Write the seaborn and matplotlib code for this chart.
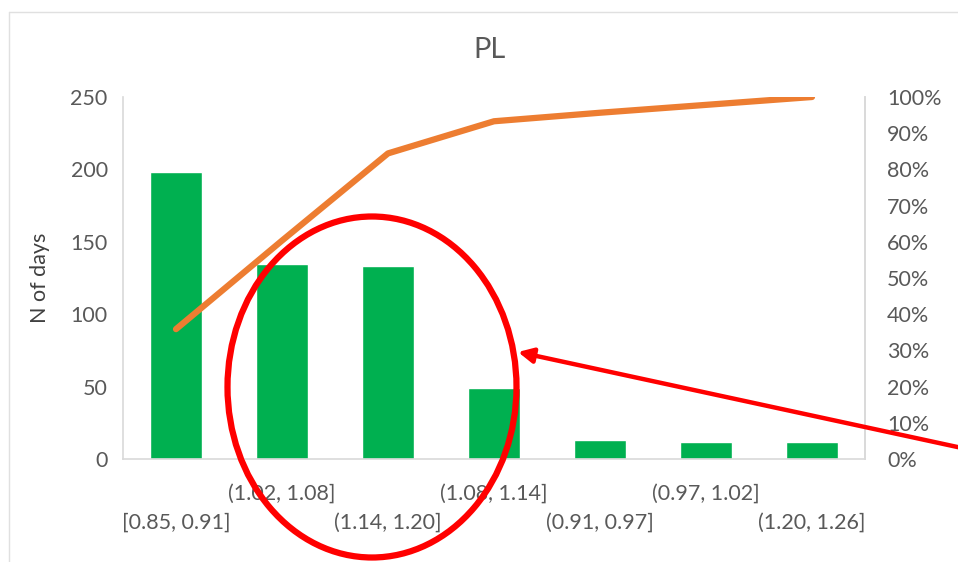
import matplotlib
matplotlib.use("Agg")
import matplotlib.pyplot as plt
import seaborn as sns
import pandas as pd
import numpy as np
from matplotlib.patches import Ellipse, FancyArrowPatch
from matplotlib.lines import Line2D
from matplotlib.ticker import PercentFormatter

categories = ["[0.85, 0.91]", "(1.02, 1.08]", "(1.14, 1.20]", "(1.08, 1.14]",
              "(0.91, 0.97]", "(0.97, 1.02]", "(1.20, 1.26]"]
counts = [198, 135, 133, 49, 13, 12, 12]
left_ticks = [0, 50, 100, 150, 200, 250]
right_ticks = [0, 0.1, 0.2, 0.3, 0.4, 0.5, 0.6, 0.7, 0.8, 0.9, 1.0]

df = pd.DataFrame({"bin": categories, "days": counts})
df["cum"] = df["days"].cumsum() / df["days"].sum()

sns.set_style("white")
plt.rcParams["font.family"] = ["Lato", "DejaVu Sans"]

GRAY = "#595959"
SPINE = "#D9D9D9"

fig = plt.figure(figsize=(9.58, 5.62), dpi=100)
ax = fig.add_axes([123/958, 1-459/562, (865-123)/958, (459-97)/562])

sns.barplot(data=df, x="bin", y="days", color="#00B050", saturation=1,
            width=0.49, ax=ax)
ax.set_ylim(0, 250)
ax.set_xlim(-0.5, len(categories) - 0.5)
ax.set_yticks(left_ticks)
ax.set_ylabel("N of days", fontsize=15.5, color="#404040", labelpad=15)
ax.set_xlabel("")
labels = [("\n" + c) if i % 2 == 0 else c for i, c in enumerate(categories)]
ax.set_xticks(range(len(categories)))
ax.set_xticklabels(labels, fontsize=15.5, color=GRAY, linespacing=1.55)
ax.tick_params(axis="x", length=0, pad=18)
ax.tick_params(axis="y", length=0, labelsize=15.5, labelcolor=GRAY, pad=11)
for s in ["left", "bottom", "right"]:
    ax.spines[s].set_color(SPINE)
    ax.spines[s].set_linewidth(1.2)
ax.spines["top"].set_visible(False)

ax2 = ax.twinx()
sns.lineplot(x=np.arange(len(categories)), y=df["cum"].values, ax=ax2,
             color="#ED7D31", linewidth=4.5)
ax2.set_ylim(0, 1)
ax2.set_yticks(right_ticks)
ax2.yaxis.set_major_formatter(PercentFormatter(1.0, decimals=0))
ax2.tick_params(axis="y", length=0, labelsize=15.5, labelcolor=GRAY, pad=16)
for s in ["left", "bottom", "top"]:
    ax2.spines[s].set_visible(False)
ax2.spines["right"].set_color(SPINE)
ax2.spines["right"].set_linewidth(1.2)
ax2.set_ylabel("")

fig.text(490/958, 1-50/562, "PL", ha="center", va="center", fontsize=21, color=GRAY)

# chart border
fig.add_artist(Line2D([9/958, 1.0], [1-12/562, 1-12/562], transform=fig.transFigure,
                      color="#E0E0E0", lw=1))
fig.add_artist(Line2D([9/958, 9/958], [0, 1-12/562], transform=fig.transFigure,
                      color="#E0E0E0", lw=1))

# annotation ellipse and arrow
fig.add_artist(Ellipse((372/958, 1-387/562), 289/958, 341/562, transform=fig.transFigure,
                       fill=False, edgecolor="#FF0000", lw=4.5, clip_on=False))
fig.add_artist(FancyArrowPatch((962/958, 1-448/562), (518/958, 1-352/562),
                               transform=fig.transFigure, arrowstyle="-|>",
                               mutation_scale=22, color="#FF0000", lw=3.2,
                               shrinkA=0, shrinkB=0, clip_on=False))

fig.savefig("out.png", dpi=100)
